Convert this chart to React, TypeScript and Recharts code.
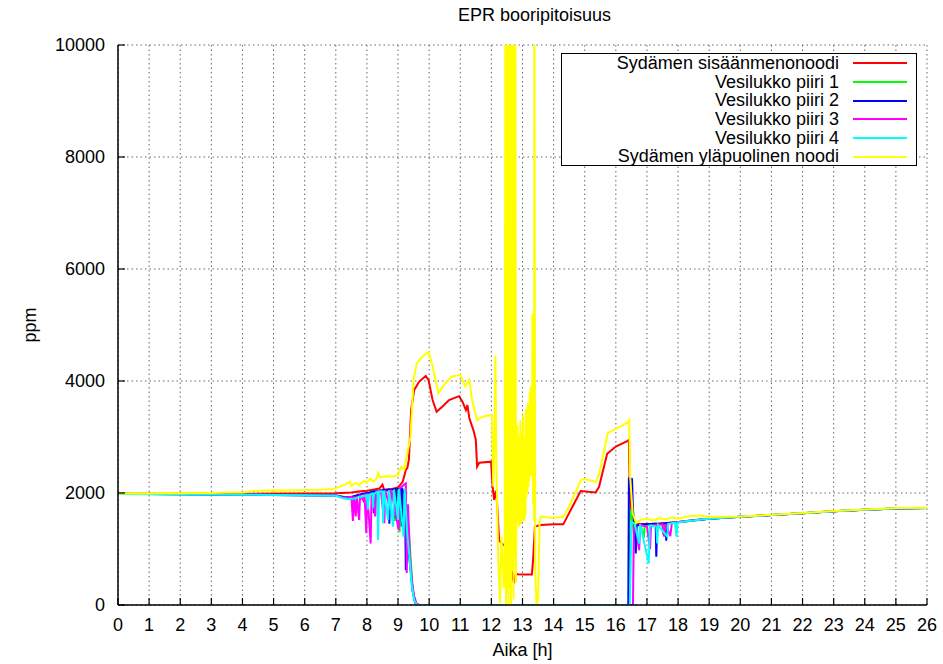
import { LineChart, Line, XAxis, YAxis, CartesianGrid, Legend } from 'recharts';

// time [h], boron concentration [ppm]
const coreInlet: [number, number][] = [
  [0, 1985], [2, 1985], [4, 1985], [6, 1990], [7, 1995], [7.5, 2010], [7.8, 2030], [8.0, 2040],
  [8.2, 2060], [8.4, 2080], [8.5, 2150], [8.55, 2060], [8.8, 2070], [9.0, 2100], [9.15, 2200],
  [9.25, 2410], [9.3, 2450], [9.35, 2600], [9.42, 3480], [9.52, 3840], [9.68, 3990], [9.89, 4090],
  [9.98, 4020], [10.11, 3660], [10.24, 3450], [10.42, 3540], [10.64, 3660], [10.96, 3730],
  [11.07, 3630], [11.18, 3480], [11.23, 3570], [11.29, 3340], [11.42, 3125], [11.5, 2950],
  [11.54, 2470], [11.61, 2540], [11.99, 2560], [12.04, 2110], [12.09, 1875], [12.13, 2000],
  [12.17, 1950], [12.25, 1150], [12.36, 1090], [12.47, 1040], [12.52, 930], [12.6, 800],
  [12.7, 450], [12.73, 390], [12.79, 570], [12.84, 550], [13.0, 545], [13.3, 545], [13.34, 800],
  [13.4, 1400], [13.6, 1430], [14.0, 1440], [14.31, 1440], [14.6, 1750], [14.87, 2035],
  [15.35, 2010], [15.46, 2110], [15.72, 2700], [16.0, 2830], [16.38, 2930], [16.42, 2950],
  [16.45, 2000], [16.5, 1550], [16.6, 1450], [17, 1440], [17.5, 1460], [18, 1480], [18.5, 1510],
  [19, 1540], [20, 1575], [21, 1605], [22, 1640], [23, 1675], [24, 1700], [25, 1725], [26, 1730],
];

const loop1: [number, number][] = [
  [0, 1985], [1, 1980], [2, 1978], [3, 1975], [4, 1970], [5, 1965], [6, 1960], [7, 1955],
  [7.3, 1930], [7.5, 1920], [7.7, 1960], [7.9, 1990], [8.1, 2010], [8.3, 2030], [8.5, 2040],
  [8.7, 2050], [8.85, 2060], [8.9, 1500], [8.93, 2060], [9.0, 2070], [9.05, 1300], [9.08, 2060],
  [9.15, 2040], [9.18, 1240], [9.21, 1900], [9.28, 1700], [9.35, 1300], [9.42, 700], [9.48, 250],
  [9.55, 50], [9.65, 0], [16.42, 0], [16.45, 1700], [16.5, 1650], [16.55, 1400], [16.6, 1160],
  [16.63, 1420], [16.8, 1430], [16.9, 1200], [16.93, 1430], [17.2, 1450], [17.5, 1440],
  [17.52, 1250], [17.55, 1450], [17.8, 1470], [18.1, 1480], [18.4, 1500], [18.7, 1520],
  [19, 1540], [20, 1575], [21, 1605], [22, 1640], [23, 1675], [24, 1700], [25, 1725], [26, 1730],
];

const loop2: [number, number][] = [
  [0, 1985], [1, 1980], [2, 1978], [3, 1975], [4, 1970], [5, 1965], [6, 1960], [7, 1955],
  [7.3, 1920], [7.5, 1930], [7.8, 1980], [8.0, 2000], [8.02, 1650], [8.05, 2000], [8.2, 2030],
  [8.22, 1640], [8.25, 2030], [8.5, 2050], [8.52, 1700], [8.55, 2050], [8.7, 2060], [8.72, 1450],
  [8.75, 2060], [8.9, 2070], [8.92, 1550], [8.95, 2070], [9.1, 2080], [9.12, 1400], [9.15, 2060],
  [9.22, 2000], [9.25, 620], [9.28, 1500], [9.33, 1000], [9.4, 650], [9.47, 250], [9.55, 40],
  [9.65, 0], [16.4, 0], [16.42, 2260], [16.52, 2250], [16.55, 1700], [16.6, 1430], [16.64, 920],
  [16.67, 1420], [16.9, 1440], [17.28, 1450], [17.3, 860], [17.33, 1440], [17.6, 1460],
  [17.62, 1150], [17.65, 1460], [18, 1480], [18.3, 1500], [18.6, 1520], [19, 1540], [20, 1575],
  [21, 1605], [22, 1640], [23, 1675], [24, 1700], [25, 1725], [26, 1730],
];

const loop3: [number, number][] = [
  [0, 1985], [1, 1980], [2, 1978], [3, 1975], [4, 1970], [5, 1965], [6, 1960], [7, 1955],
  [7.3, 1910], [7.5, 1930], [7.55, 1500], [7.58, 1940], [7.64, 1580], [7.67, 1950], [7.75, 1520],
  [7.78, 1960], [7.88, 1870], [7.92, 1990], [7.98, 1280], [8.01, 2000], [8.12, 1100],
  [8.15, 2010], [8.27, 1580], [8.3, 2030], [8.45, 2040], [8.56, 1460], [8.59, 2050], [8.75, 1700],
  [8.78, 2060], [9.02, 1340], [9.05, 2080], [9.2, 2150], [9.25, 2170], [9.28, 570], [9.32, 1800],
  [9.38, 900], [9.45, 400], [9.52, 150], [9.6, 20], [9.7, 0], [16.55, 0], [16.58, 1400],
  [16.62, 1440], [16.75, 980], [16.78, 1430], [17.0, 1400], [17.1, 1000], [17.13, 1420],
  [17.5, 1440], [17.55, 1220], [17.6, 1450], [17.75, 1230], [17.8, 1460], [18.1, 1490],
  [18.4, 1510], [18.8, 1530], [19, 1540], [20, 1575], [21, 1605], [22, 1640], [23, 1675],
  [24, 1700], [25, 1725], [26, 1730],
];

const loop4: [number, number][] = [
  [0, 1980], [1, 1978], [2, 1975], [3, 1972], [4, 1968], [5, 1965], [6, 1958], [7, 1950],
  [7.2, 1910], [7.4, 1890], [7.6, 1900], [7.8, 1930], [8.0, 1960], [8.03, 1700], [8.06, 1970],
  [8.18, 1990], [8.2, 1740], [8.23, 1990], [8.34, 2020], [8.36, 1160], [8.39, 2020], [8.5, 2030],
  [8.52, 1460], [8.55, 2040], [8.68, 1520], [8.71, 2050], [8.84, 1400], [8.87, 2060], [9.0, 1520],
  [9.03, 2070], [9.18, 1220], [9.21, 2080], [9.3, 1240], [9.36, 900], [9.44, 350], [9.52, 80],
  [9.62, 0], [16.45, 0], [16.5, 1480], [16.6, 1460], [16.75, 1100], [16.78, 1440], [17.06, 740],
  [17.09, 1420], [17.3, 1400], [17.33, 1100], [17.36, 1430], [17.65, 1220], [17.68, 1450],
  [17.9, 1470], [17.95, 1220], [17.98, 1470], [18.2, 1490], [18.5, 1510], [18.8, 1530],
  [19, 1540], [20, 1575], [21, 1605], [22, 1640], [23, 1675], [24, 1700], [25, 1725], [26, 1730],
];

const coreOutlet: [number, number][] = [
  [0, 1990], [0.5, 1995], [1, 1990], [1.5, 2000], [2, 1995], [2.5, 2005], [3, 2000], [3.5, 2010],
  [4, 2010], [4.3, 2030], [4.6, 2040], [5, 2050], [5.5, 2045], [6, 2055], [6.5, 2060], [6.9, 2070],
  [7.1, 2110], [7.3, 2150], [7.45, 2200], [7.5, 2130], [7.65, 2180], [7.75, 2140], [7.9, 2220],
  [8.0, 2180], [8.1, 2260], [8.2, 2200], [8.3, 2250], [8.36, 2360], [8.42, 2280], [8.6, 2300],
  [8.8, 2290], [9.0, 2320], [9.1, 2470], [9.2, 2420], [9.3, 2710], [9.4, 3000], [9.5, 4020],
  [9.6, 4310], [9.77, 4430], [9.98, 4520], [10.09, 4310], [10.3, 3780], [10.52, 3960],
  [10.73, 4080], [11.0, 4110], [11.16, 3900], [11.29, 4020], [11.38, 3660], [11.54, 3300],
  [11.7, 3360], [11.85, 3380], [12.02, 3390], [12.06, 2110], [12.1, 3000], [12.13, 4450],
  [12.16, 2500], [12.22, 800], [12.28, 30], [12.32, 1220], [12.36, 900], [12.4, 300], [12.43, 930],
  [12.45, 12000], [12.47, 0], [12.49, 12000], [12.51, 200], [12.53, 12000], [12.55, 0],
  [12.57, 12000], [12.59, 300], [12.61, 12000], [12.63, 0], [12.65, 12000], [12.67, 600],
  [12.69, 12000], [12.71, 100], [12.73, 12000], [12.75, 900], [12.77, 12000], [12.79, 400],
  [12.81, 2600], [12.825, 1450], [12.84, 3200], [12.855, 1500], [12.87, 3000], [12.885, 1400],
  [12.9, 2800], [12.915, 1600], [12.93, 3300], [12.945, 1440], [12.96, 2900], [12.975, 1700],
  [12.99, 3100], [13.005, 1500], [13.02, 3400], [13.035, 1800], [13.05, 2700], [13.065, 1500],
  [13.08, 3000], [13.095, 1600], [13.11, 3500], [13.125, 1900], [13.14, 3300], [13.155, 2000],
  [13.17, 3600], [13.185, 2100], [13.2, 3400], [13.215, 2200], [13.23, 3800], [13.245, 2400],
  [13.26, 3900], [13.275, 2300], [13.29, 3600], [13.305, 2500], [13.32, 5200], [13.34, 1800],
  [13.36, 4200], [13.37, 1500], [13.38, 12000], [13.41, 600], [13.45, 0], [13.5, 100],
  [13.55, 1500], [13.6, 1580], [13.9, 1560], [14.3, 1570], [14.5, 1760], [14.88, 2230],
  [15.0, 2250], [15.36, 2200], [15.47, 2350], [15.74, 3070], [16.0, 3150], [16.2, 3200],
  [16.4, 3270], [16.43, 3300], [16.46, 2290], [16.54, 1640], [16.65, 1460], [16.8, 1520],
  [17.0, 1540], [17.2, 1510], [17.4, 1550], [17.6, 1530], [17.8, 1560], [18.0, 1540], [18.3, 1580],
  [18.7, 1600], [19, 1570], [20, 1580], [21, 1610], [22, 1645], [23, 1680], [24, 1705], [25, 1730],
  [26, 1735],
];

const hourTicks = [0, 1, 2, 3, 4, 5, 6, 7, 8, 9, 10, 11, 12, 13, 14, 15, 16, 17, 18, 19, 20, 21, 22, 23, 24, 25, 26];
const ppmTicks = [0, 2000, 4000, 6000, 8000, 10000];

const series = [
  { name: 'Sydämen sisäänmenonoodi', color: '#ff0000', points: coreInlet },
  { name: 'Vesilukko piiri 1', color: '#00ff00', points: loop1 },
  { name: 'Vesilukko piiri 2', color: '#0000ff', points: loop2 },
  { name: 'Vesilukko piiri 3', color: '#ff00ff', points: loop3 },
  { name: 'Vesilukko piiri 4', color: '#00ffff', points: loop4 },
  { name: 'Sydämen yläpuolinen noodi', color: '#ffff00', points: coreOutlet },
];

const FONT = '"Liberation Sans", Arial, Helvetica, sans-serif';
const tickStyle = { fontSize: 18, fill: '#000', fontFamily: FONT };

function LegendBox() {
  return (
    <div
      style={{
        width: 354,
        height: 111,
        border: '1.5px solid #000',
        background: '#fff',
        fontFamily: FONT,
        fontSize: 18,
        color: '#000',
      }}
    >
      {series.map((s) => (
        <div key={s.name} style={{ display: 'flex', alignItems: 'center', height: 18.7, lineHeight: '18.7px' }}>
          <span style={{ width: 277, textAlign: 'right', whiteSpace: 'nowrap' }}>{s.name}</span>
          <svg width={68} height={6} style={{ display: 'block' }}>
            <line x1={14} x2={68} y1={3} y2={3} stroke={s.color} strokeWidth={2} />
          </svg>
        </div>
      ))}
    </div>
  );
}

export default function App() {
  return (
    <div style={{ position: 'absolute', left: 0, top: 0, width: 943, height: 664, background: '#fff', fontFamily: FONT }}>
      <div style={{ position: 'absolute', left: 130, width: 809, top: 5, textAlign: 'center', fontSize: 18 }}>
        EPR booripitoisuus
      </div>
      <div style={{ position: 'absolute', left: 118, width: 809, top: 640, textAlign: 'center', fontSize: 18 }}>
        Aika [h]
      </div>
      <div
        style={{
          position: 'absolute',
          left: 30,
          top: 325,
          fontSize: 18,
          transform: 'translate(-50%, -50%) rotate(-90deg)',
        }}
      >
        ppm
      </div>
      <LineChart width={943} height={664} margin={{ top: 45, right: 16, bottom: 0, left: 0 }}>
        <CartesianGrid stroke="#666" strokeDasharray="1.5 3" />
        <XAxis
          dataKey="t"
          type="number"
          domain={[0, 26]}
          ticks={hourTicks}
          interval={0}
          allowDataOverflow
          height={59}
          tick={tickStyle}
          tickSize={-7}
          tickMargin={20}
          axisLine={{ stroke: '#000', strokeWidth: 1.5 }}
          tickLine={{ stroke: '#000', strokeWidth: 1.2 }}
        />
        <XAxis
          xAxisId="top"
          orientation="top"
          dataKey="t"
          type="number"
          domain={[0, 26]}
          ticks={hourTicks}
          interval={0}
          height={0}
          tick={false}
          tickSize={-7}
          axisLine={{ stroke: '#000', strokeWidth: 1.5 }}
          tickLine={{ stroke: '#000', strokeWidth: 1.2 }}
        />
        <YAxis
          type="number"
          domain={[0, 10000]}
          ticks={ppmTicks}
          interval={0}
          allowDataOverflow
          width={118}
          tick={tickStyle}
          tickSize={-7}
          tickMargin={20}
          axisLine={{ stroke: '#000', strokeWidth: 1.5 }}
          tickLine={{ stroke: '#000', strokeWidth: 1.2 }}
        />
        <YAxis
          yAxisId="right"
          orientation="right"
          type="number"
          domain={[0, 10000]}
          ticks={ppmTicks}
          interval={0}
          width={0}
          tick={false}
          tickSize={-7}
          axisLine={{ stroke: '#000', strokeWidth: 1.5 }}
          tickLine={{ stroke: '#000', strokeWidth: 1.2 }}
        />
        {series.map((s) => (
          <Line
            key={s.name}
            name={s.name}
            data={s.points.map(([t, v]) => ({ t, v }))}
            dataKey="v"
            type="linear"
            stroke={s.color}
            strokeWidth={2}
            dot={false}
            activeDot={false}
            isAnimationActive={false}
          />
        ))}
        <Legend
          layout="vertical"
          align="center"
          verticalAlign="middle"
          content={() => <LegendBox />}
          wrapperStyle={{ left: 561, top: 53, width: 'auto' }}
        />
      </LineChart>
    </div>
  );
}
